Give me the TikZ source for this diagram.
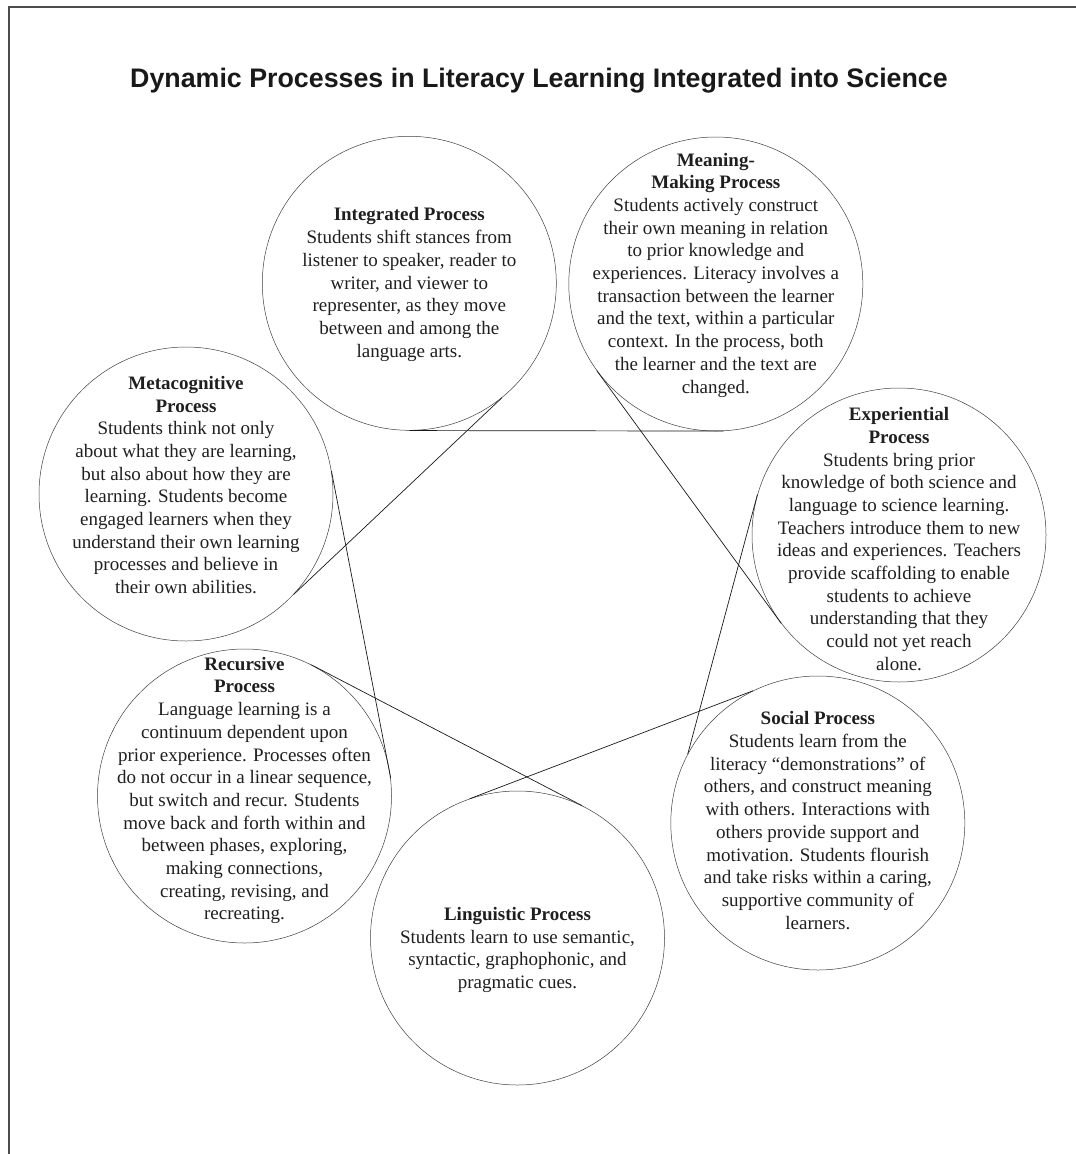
\documentclass[tikz,border=0pt]{standalone}
\usepackage{fontspec}
\setmainfont{Liberation Serif}
\newfontfamily\titlefont{Liberation Sans}
\begin{document}
\begin{tikzpicture}[x=1pt,y=-1pt,
  proc/.style={circle, draw=black!75, line width=0.5pt, minimum size=294pt, inner sep=0pt},
  txt/.style={align=center, inner sep=0pt, text=black!88, font=\fontsize{19}{22.7}\selectfont},
  conn/.style={draw=black!90, line width=0.7pt},
  frame/.style={draw=black!70, line width=1.3pt}]
\useasboundingbox (0,0) rectangle (1076,1154);
\fill[white] (0,0) rectangle (1076,1154);
\coordinate (fb) at (9,1154);
\coordinate (fc) at (9,7);
\coordinate (fr) at (1076,7);
\draw[frame] (fb) -- (fc) -- (fr);

\node[font=\titlefont\bfseries\fontsize{26.8}{31}\selectfont, text=black!90] (title) at (539,81)
  {Dynamic Processes in Literacy Learning Integrated into Science};

\node[proc] (int)  at (409.3,283.3) {};
\node[proc] (mean) at (715.8,284) {};
\node[proc] (meta) at (186,494) {};
\node[proc] (exp)  at (899,535) {};
\node[proc] (rec)  at (244.5,796) {};
\node[proc] (soc)  at (817.8,823) {};
\node[proc] (ling) at (517.5,938) {};

\node[txt] (intT) at (409.3,284.5) {\textbf{Integrated Process}\\
Students shift stances from\\
listener to speaker, reader to\\
writer, and viewer to\\
representer, as they move\\
between and among the\\
language arts.};

\node[txt] (meanT) at (715.8,275) {\textbf{Meaning-}\\
\textbf{Making Process}\\
Students actively construct\\
their own meaning in relation\\
to prior knowledge and\\
experiences. Literacy involves a\\
transaction between the learner\\
and the text, within a particular\\
context. In the process, both\\
the learner and the text are\\
changed.};

\node[txt] (metaT) at (186,485) {\textbf{Metacognitive}\\
\textbf{Process}\\
Students think not only\\
about what they are learning,\\
but also about how they are\\
learning. Students become\\
engaged learners when they\\
understand their own learning\\
processes and believe in\\
their own abilities.};

\node[txt] (expT) at (899,539) {\textbf{Experiential}\\
\textbf{Process}\\
Students bring prior\\
knowledge of both science and\\
language to science learning.\\
Teachers introduce them to new\\
ideas and experiences. Teachers\\
provide scaffolding to enable\\
students to achieve\\
understanding that they\\
could not yet reach\\
alone.};

\node[txt] (recT) at (244.5,790.5) {\textbf{Recursive}\\
\textbf{Process}\\
Language learning is a\\
continuum dependent upon\\
prior experience. Processes often\\
do not occur in a linear sequence,\\
but switch and recur. Students\\
move back and forth within and\\
between phases, exploring,\\
making connections,\\
creating, revising, and\\
recreating.};

\node[txt] (socT) at (817.8,820.5) {\textbf{Social Process}\\
Students learn from the\\
literacy “demonstrations” of\\
others, and construct meaning\\
with others. Interactions with\\
others provide support and\\
motivation. Students flourish\\
and take risks within a caring,\\
supportive community of\\
learners.};

\node[txt] (lingT) at (517.5,950) {\textbf{Linguistic Process}\\
Students learn to use semantic,\\
syntactic, graphophonic, and\\
pragmatic cues.};

\draw[conn] (int.-90) -- (mean.-87);
\draw[conn] (int.-51) -- (meta.-43);
\draw[conn] (mean.216) -- (exp.217);
\draw[conn] (meta.9) -- (rec.7);
\draw[conn] (exp.164) -- (soc.152);
\draw[conn] (rec.63) -- (ling.64);
\draw[conn] (ling.109) -- (soc.116);
\end{tikzpicture}
\end{document}
